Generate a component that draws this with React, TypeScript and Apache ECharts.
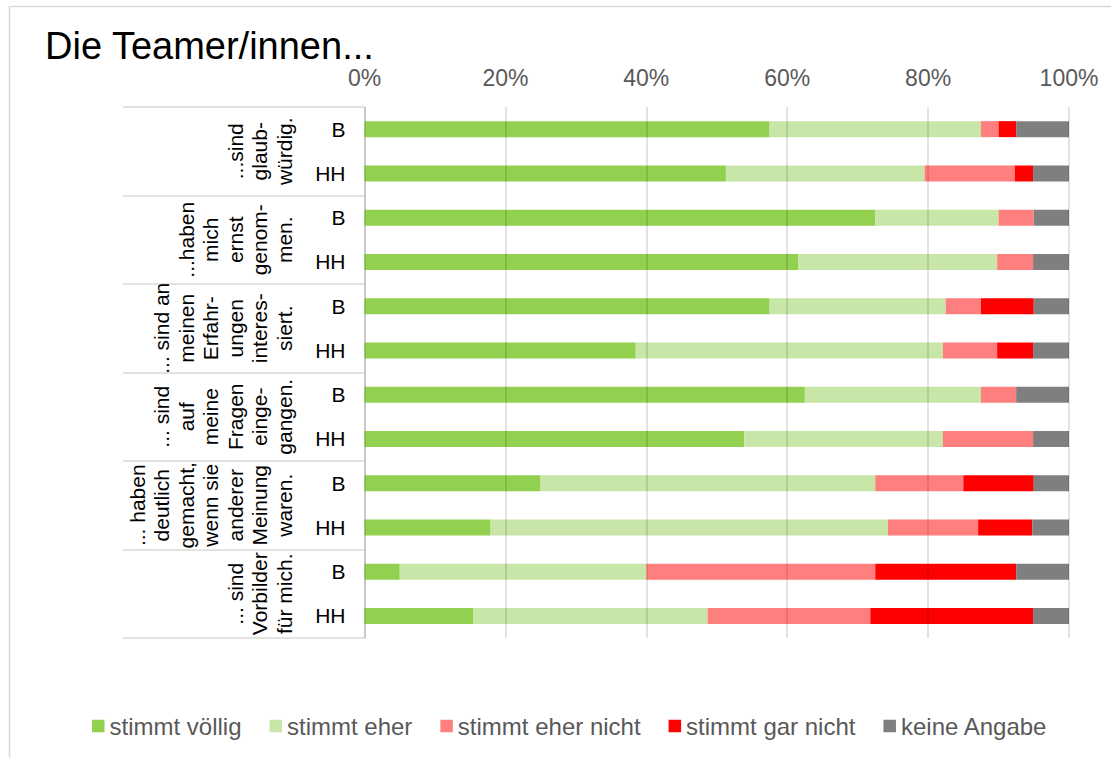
import React, { useEffect, useRef } from 'react';
import * as echarts from 'echarts';

const titleText = 'Die Teamer/innen...';
const groupLabels = [
  '...sind\nglaub-\nwürdig.',
  '...haben\nmich\nernst\ngenom-\nmen.',
  '... sind an\nmeinen\nErfahr-\nungen\ninteres-\nsiert.',
  '... sind\nauf\nmeine\nFragen\neinge-\ngangen.',
  '... haben\ndeutlich\ngemacht,\nwenn sie\nanderer\nMeinung\nwaren.',
  '... sind\nVorbilder\nfür mich.',
];
const respondents = ['B', 'HH'];
const seriesNames = ['stimmt völlig', 'stimmt eher', 'stimmt eher nicht', 'stimmt gar nicht', 'keine Angabe'];
const seriesColors = ['#92d050', '#c8e6a7', '#ff7f7f', '#ff0000', '#7f7f7f'];

// rows top to bottom: each group B then HH (percent)
const stimmtVoellig = [57.5, 51.3, 72.5, 61.6, 57.5, 38.5, 62.5, 53.9, 25.0, 17.9, 5.0, 15.4];
const stimmtEher = [30.0, 28.2, 17.5, 28.2, 25.0, 43.6, 25.0, 28.2, 47.5, 56.4, 35.0, 33.3];
const stimmtEherNicht = [2.5, 12.8, 5.0, 5.1, 5.0, 7.7, 5.0, 12.8, 12.5, 12.8, 32.5, 23.1];
const stimmtGarNicht = [2.5, 2.6, 0, 0, 7.5, 5.1, 0, 0, 10.0, 7.7, 20.0, 23.1];
const keineAngabe = [7.5, 5.1, 5.0, 5.1, 5.0, 5.1, 7.5, 5.1, 5.0, 5.2, 7.5, 5.1];

const axisMin = 0;
const axisMax = 100;
const axisStep = 20;

const FONT = '"Liberation Sans", Arial, sans-serif';

export default function App() {
  const ref = useRef<HTMLDivElement>(null);

  useEffect(() => {
    if (!ref.current) return;
    const chart = echarts.init(ref.current, null, { renderer: 'svg' });
    const categories = groupLabels.flatMap((_, gi) => respondents.map((r) => `${gi}|${r}`));
    const allValues = [stimmtVoellig, stimmtEher, stimmtEherNicht, stimmtGarNicht, keineAngabe];

    chart.setOption({
      animation: false,
      backgroundColor: '#ffffff',
      textStyle: { fontFamily: FONT },
      title: {
        text: titleText,
        left: 45,
        top: 30.5,
        padding: 0,
        textStyle: { fontFamily: FONT, fontSize: 38, lineHeight: 30, fontWeight: 'normal', color: '#000000' },
      },
      legend: {
        data: seriesNames,
        left: 92,
        top: 714,
        padding: 0,
        icon: 'rect',
        itemWidth: 12.5,
        itemHeight: 12.5,
        itemGap: 28,
        textStyle: { fontFamily: FONT, fontSize: 24, color: '#595959' },
      },
      grid: {
        left: 364.5,
        right: 42,
        top: 107,
        bottom: 120,
        containLabel: false,
        outerBoundsMode: 'none',
      },
      xAxis: {
        type: 'value',
        position: 'top',
        min: axisMin,
        max: axisMax,
        interval: axisStep,
        z: 5,
        axisLine: { show: false },
        axisTick: { show: false },
        axisLabel: {
          formatter: '{value}%',
          fontFamily: FONT,
          fontSize: 23,
          color: '#595959',
          margin: 18,
        },
        splitLine: { show: true, lineStyle: { color: 'rgba(0,0,0,0.15)', width: 1.5 } },
      },
      yAxis: [
        {
          type: 'category',
          inverse: true,
          position: 'left',
          data: categories,
          axisLine: { show: true, lineStyle: { color: '#d9d9d9', width: 1.5 } },
          axisTick: { show: false },
          splitLine: { show: false },
          axisLabel: {
            interval: 0,
            formatter: (v: string) => v.split('|')[1],
            fontFamily: FONT,
            fontSize: 21,
            color: '#000000',
            margin: 19,
          },
        },
        {
          type: 'category',
          inverse: true,
          position: 'left',
          offset: 0,
          data: groupLabels,
          axisLine: { show: false },
          axisTick: { show: true, length: 241.5, lineStyle: { color: '#d9d9d9', width: 1.5 } },
          splitLine: { show: false },
          axisLabel: {
            interval: 0,
            rotate: 90,
            fontFamily: FONT,
            fontSize: 21,
            lineHeight: 24.5,
            color: '#000000',
            margin: 68,
          },
        },
      ],
      series: seriesNames.map((name, i) => ({
        name,
        type: 'bar',
        stack: 'total',
        yAxisIndex: 0,
        barWidth: 16,
        itemStyle: { color: seriesColors[i] },
        emphasis: { disabled: true },
        data: allValues[i],
      })),
      graphic: [
        {
          type: 'polyline',
          silent: true,
          shape: { points: [[1111, 6.5], [9.5, 6.5], [9.5, 758]] },
          style: { stroke: '#d9d9d9', lineWidth: 1.5, fill: 'none' },
        },
      ],
    });

    return () => chart.dispose();
  }, []);

  return (
    <div
      ref={ref}
      style={{ position: 'fixed', left: 0, top: 0, width: 1111, height: 758, background: '#fff' }}
    />
  );
}
